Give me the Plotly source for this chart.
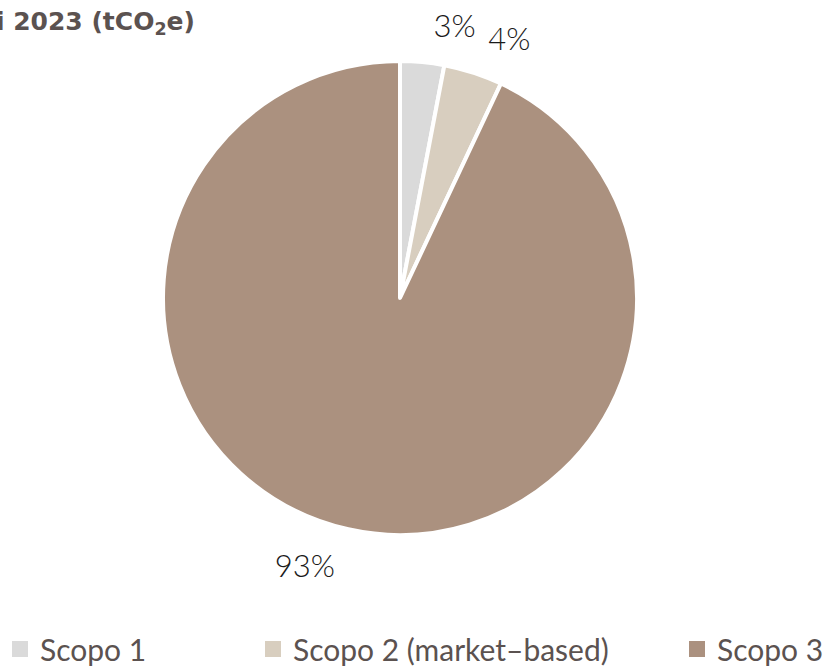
import plotly.graph_objects as go

# Emission shares by scope, 2023
labels = ["Scopo 1", "Scopo 2 (market–based)", "Scopo 3"]
shares = [3, 4, 93]
colors = ["#dadada", "#d8cebf", "#ab917f"]

# pie centre (400, 298) px, radius 237 px; labels ride on a slightly wider ring
CX, CY, R, R_LABEL = 400, 298, 237, 255
W, H = 826, 666


def ring_domain(radius):
    return dict(
        x=[(CX - radius) / W, (CX + radius) / W],
        y=[1 - (CY + radius) / H, 1 - (CY - radius) / H],
    )


PCT_FONT = dict(family="Lato", size=31, color="#1a1a1a", weight=300)
LEGEND_FONT = dict(family="Lato", size=30, color="#5b5250")
legend_x = [0 / W, 253 / W, 677 / W]

pie_common = dict(
    labels=labels,
    values=shares,
    sort=False,
    direction="clockwise",
    rotation=0,
    showlegend=False,
)

fig = go.Figure()
# coloured slices
fig.add_trace(
    go.Pie(
        **pie_common,
        marker=dict(colors=colors, line=dict(color="white", width=4)),
        textinfo="none",
        hoverinfo="label+percent",
        domain=ring_domain(R),
    )
)

# Percentage labels on transparent rings; the two small neighbouring slices
# get separate rings so their labels stay next to their slices.
label_sets = [
    ["%{value}%", "", ""],
    ["", "%{value}%", "%{value}%"],
]
for texts in label_sets:
    fig.add_trace(
        go.Pie(
            **pie_common,
            marker=dict(colors=["rgba(0,0,0,0)"] * len(labels), line=dict(width=0)),
            texttemplate=texts,
            textposition="outside",
            textfont=PCT_FONT,
            hoverinfo="skip",
            domain=ring_domain(R_LABEL),
        )
    )

# one legend box per scope so each entry sits at its own spot along the bottom
legend_names = ["legend", "legend2", "legend3"]
for name, lab, col in zip(legend_names, labels, colors):
    fig.add_trace(
        go.Scatter(
            x=[None],
            y=[None],
            mode="markers",
            name=lab,
            marker=dict(symbol="square", size=20, color=col),
            legend=name,
            showlegend=True,
            hoverinfo="skip",
        )
    )

legend_common = dict(
    orientation="h",
    y=-9 / H,
    yanchor="bottom",
    xanchor="left",
    font=LEGEND_FONT,
    bgcolor="rgba(0,0,0,0)",
    itemsizing="trace",
)

fig.update_layout(
    width=W,
    height=H,
    margin=dict(l=0, r=0, t=0, b=0, autoexpand=False),
    paper_bgcolor="white",
    plot_bgcolor="white",
    xaxis=dict(visible=False),
    yaxis=dict(visible=False),
    title=dict(
        text="Emissioni 2023 (tCO<sub>2</sub>e)",
        xref="container",
        yref="container",
        x=195 / W,
        xanchor="right",
        y=1 - 21 / H,
        yanchor="middle",
        font=dict(family="DejaVu Sans", size=25, color="#5b5250", weight="bold"),
    ),
    legend=dict(x=legend_x[0], **legend_common),
    legend2=dict(x=legend_x[1], **legend_common),
    legend3=dict(x=legend_x[2], **legend_common),
)

fig.write_html("out.html")
